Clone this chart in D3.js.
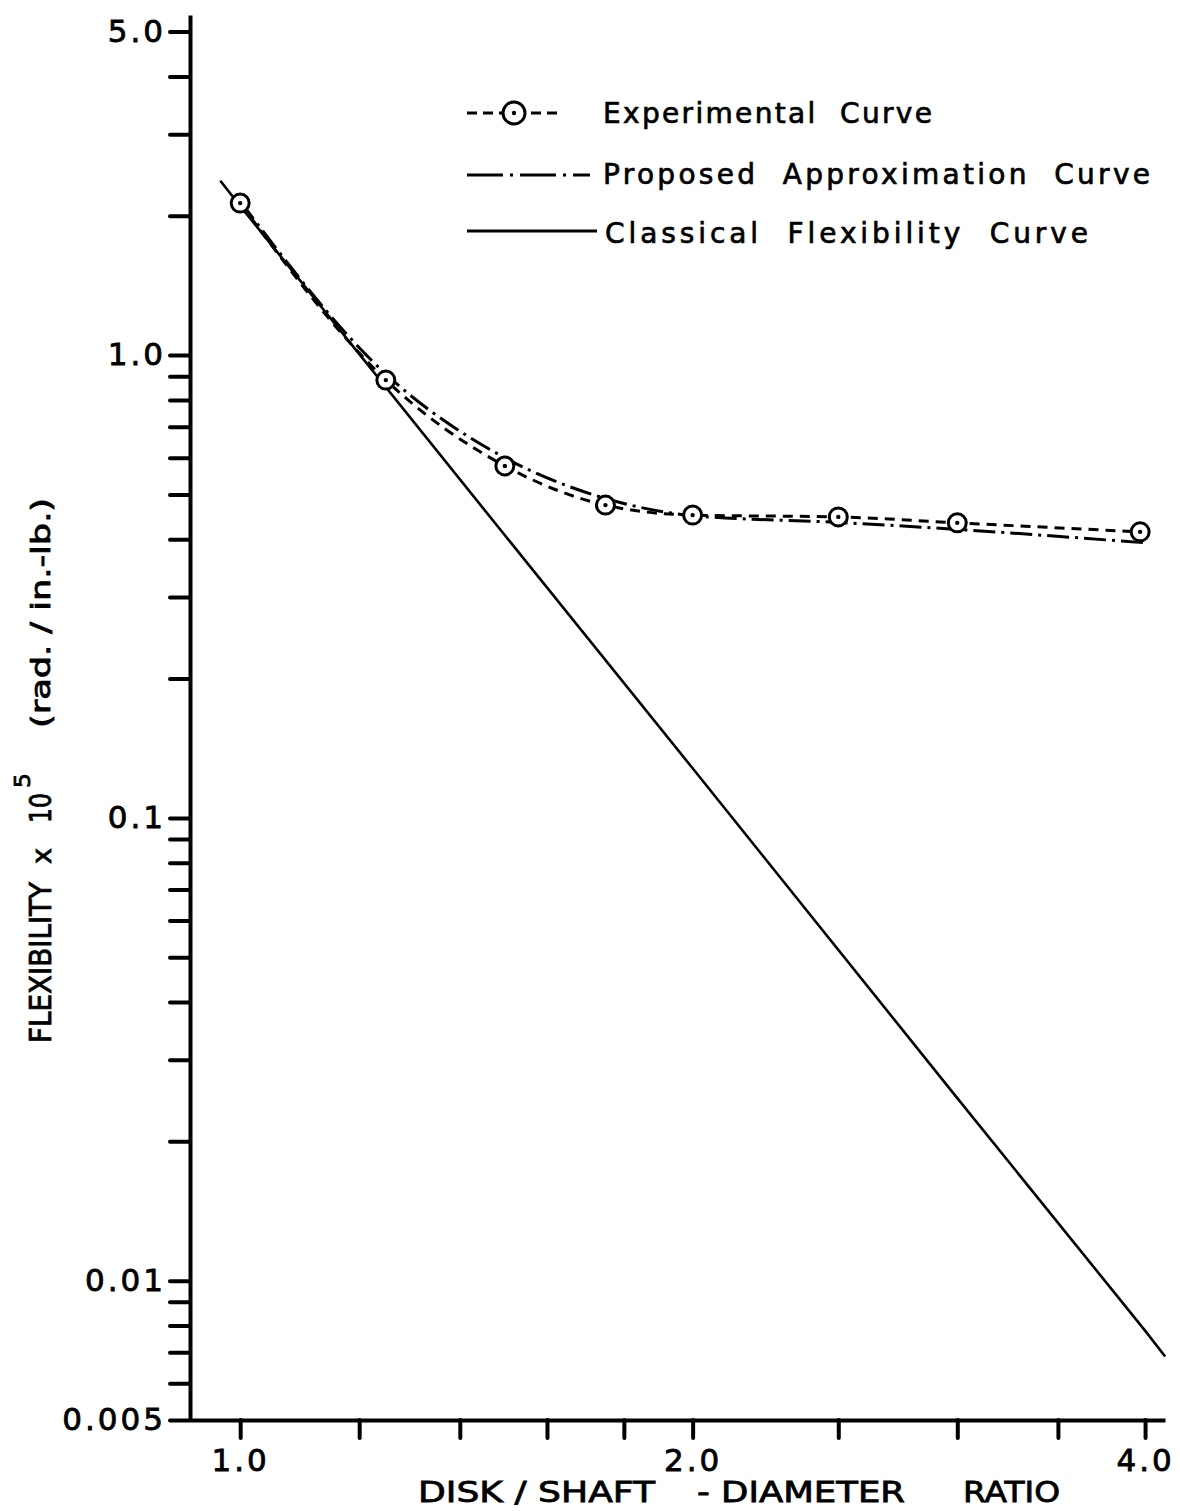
<!DOCTYPE html>
<html><head><meta charset="utf-8">
<script src="https://cdn.jsdelivr.net/npm/d3@7"></script>
<style>
body{margin:0;background:#fff}
svg{display:block;background:#fff}
text{font-family:"DejaVu Sans",sans-serif;fill:#000}
</style>
</head><body>
<svg id="chart" width="1180" height="1511"></svg>
<script>
// ---------------- data ----------------
const expX   = [1.0, 1.25, 1.5, 1.75, 2.0, 2.5, 3.0, 3.97];
const expY   = [2.13, 0.883, 0.576, 0.474, 0.451, 0.447, 0.434, 0.415];
const propX  = [1.0, 1.25, 1.5, 1.75, 2.0, 2.5, 3.0, 4.0];
const propY  = [2.15, 0.91, 0.60, 0.49, 0.45, 0.435, 0.42, 0.393];
const classX = [0.97, 1.0, 1.5, 2.0, 3.0, 4.0, 4.125];
const classY = [2.38, 2.10, 0.408, 0.128, 0.0248, 0.0078, 0.00686];

const xTicks      = [1.0, 1.2, 1.4, 1.6, 1.8, 2.0, 2.5, 3.0, 3.5, 4.0];
const xTickLabels = ["1.0", "", "", "", "", "2.0", "", "", "", "4.0"];
const yTicks      = [5, 4, 3, 2, 1, 0.9, 0.8, 0.7, 0.6, 0.5, 0.4, 0.3, 0.2, 0.1,
                     0.09, 0.08, 0.07, 0.06, 0.05, 0.04, 0.03, 0.02, 0.01,
                     0.009, 0.008, 0.007, 0.006, 0.005];
const yTickLabels = ["5.0", "", "", "", "1.0", "", "", "", "", "", "", "", "", "0.1",
                     "", "", "", "", "", "", "", "", "0.01",
                     "", "", "", "", "0.005"];
const legendLabels = ["Experimental  Curve", "Proposed  Approximation  Curve", "Classical  Flexibility  Curve"];
const xTitleParts  = ["DISK / SHAFT", "- DIAMETER", "RATIO"];
const yTitleParts  = ["FLEXIBILITY", "x", "10", "5", "(rad. / in.-lb.)"];

// ---------------- scales ----------------
const svg = d3.select("#chart");
const x = d3.scaleLog().domain([0.926, 4.124]).range([190, 1165]);
const y = d3.scaleLog().domain([0.005, 5.43]).range([1420, 15]);

// ---------------- axes ----------------
const yAxis = svg.append("g").attr("transform", "translate(190,0)")
  .call(d3.axisLeft(y).tickValues(yTicks).tickSize(20).tickSizeOuter(0).tickPadding(6)
        .tickFormat((d, i) => yTickLabels[i]));
const xAxis = svg.append("g").attr("transform", "translate(0,1420)")
  .call(d3.axisBottom(x).tickValues(xTicks).tickSize(18).tickSizeOuter(0).tickPadding(11)
        .tickFormat((d, i) => xTickLabels[i]));

[yAxis, xAxis].forEach(g => {
  g.select(".domain").attr("stroke", "#000").attr("stroke-width", 4);
  g.selectAll(".tick line").attr("stroke", "#000").attr("stroke-width", 4).attr("stroke-linecap", "round");
  g.selectAll(".tick text").attr("font-size", 31).attr("font-family", "DejaVu Sans")
    .attr("letter-spacing", 3).attr("fill", "#000")
    .attr("stroke", "#000").attr("stroke-width", 0.8);
});
yAxis.selectAll(".tick text").attr("x", -24);

// ---------------- lines ----------------
const line = d3.line().x(d => x(d[0])).y(d => y(d[1]));
const zip = (a, b) => a.map((v, i) => [v, b[i]]);

svg.append("path").datum(zip(classX, classY))
  .attr("d", line).attr("fill", "none").attr("stroke", "#000").attr("stroke-width", 2.6);

svg.append("path").datum(zip(propX, propY))
  .attr("d", line.curve(d3.curveMonotoneX)).attr("fill", "none").attr("stroke", "#000")
  .attr("stroke-width", 3).attr("stroke-dasharray", "22,6,3,6");

svg.append("path").datum(zip(expX, expY))
  .attr("d", d3.line().x(d => x(d[0])).y(d => y(d[1])).curve(d3.curveMonotoneX))
  .attr("fill", "none").attr("stroke", "#000")
  .attr("stroke-width", 3).attr("stroke-dasharray", "10,7");

const pts = svg.append("g").selectAll("g").data(zip(expX, expY)).join("g")
  .attr("transform", d => `translate(${x(d[0])},${y(d[1])})`);
pts.append("circle").attr("r", 9).attr("fill", "#fff").attr("stroke", "#000").attr("stroke-width", 3);
pts.append("circle").attr("r", 2.2).attr("fill", "#000");

// ---------------- legend ----------------
const lg = svg.append("g");
// experimental
lg.append("line").attr("x1", 467).attr("x2", 562).attr("y1", 113).attr("y2", 113)
  .attr("stroke", "#000").attr("stroke-width", 3).attr("stroke-dasharray", "10,6");
lg.append("circle").attr("cx", 514).attr("cy", 113).attr("r", 11).attr("fill", "#fff")
  .attr("stroke", "#000").attr("stroke-width", 3);
lg.append("circle").attr("cx", 514).attr("cy", 113).attr("r", 2.2).attr("fill", "#000");
// proposed
lg.append("line").attr("x1", 467).attr("x2", 590).attr("y1", 175).attr("y2", 175)
  .attr("stroke", "#000").attr("stroke-width", 3).attr("stroke-dasharray", "36,7,3,7");
// classical
lg.append("line").attr("x1", 467).attr("x2", 597).attr("y1", 231).attr("y2", 231)
  .attr("stroke", "#000").attr("stroke-width", 3);

const legendPos = [[603, 123, 329], [603, 184, 547], [605, 243, 483]];
legendLabels.forEach((t, i) => {
  lg.append("text").attr("x", legendPos[i][0]).attr("y", legendPos[i][1])
    .attr("font-size", 28).attr("textLength", legendPos[i][2]).attr("lengthAdjust", "spacing")
    .attr("stroke", "#000").attr("stroke-width", 0.7)
    .style("white-space", "pre").text(t);
});

// ---------------- axis titles ----------------
const xt = [[418, 237], [697, 208], [963, 97]];
xTitleParts.forEach((t, i) => {
  svg.append("text").attr("x", xt[i][0]).attr("y", 1502).attr("font-size", 29)
    .attr("stroke", "#000").attr("stroke-width", 0.8)
    .attr("textLength", xt[i][1]).attr("lengthAdjust", "spacingAndGlyphs").text(t);
});

// y title pieces: [baselineX, startY, length, fontSize]
const yt = [[51, 1043, 161, 30], [51, 864, 16, 26], [51, 823, 30, 30], [30, 788, 15, 22], [50, 728, 230, 26]];
yTitleParts.forEach((t, i) => {
  svg.append("text").attr("transform", `translate(${yt[i][0]},${yt[i][1]}) rotate(-90)`)
    .attr("font-size", yt[i][3]).attr("textLength", yt[i][2]).attr("lengthAdjust", "spacingAndGlyphs")
    .attr("stroke", "#000").attr("stroke-width", 0.8)
    .text(t);
});
</script>
</body></html>
